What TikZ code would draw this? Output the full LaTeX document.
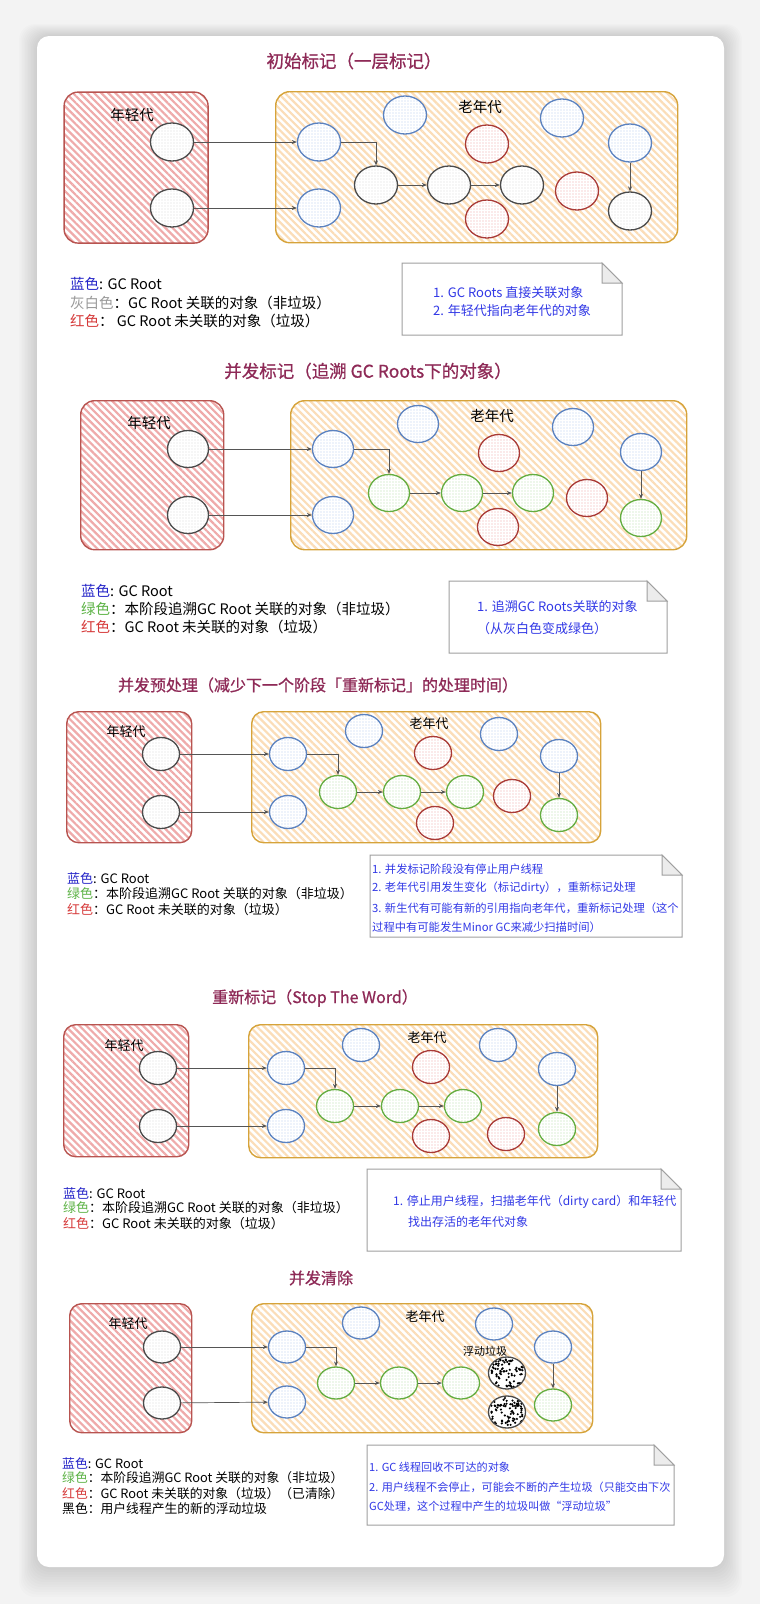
\documentclass[tikz,border=0pt]{standalone}
\usepackage{fontspec}
\setmainfont{Noto Sans CJK SC}
\newfontfamily\titlefont[FakeBold=0.8]{Noto Sans CJK SC}
\usetikzlibrary{
		shapes.geometric,
		patterns.meta,
		arrows.meta,
		positioning
	}
\definecolor{pagebg}{HTML}{F3F3F3}
\definecolor{titlecol}{HTML}{8E2A57}
\definecolor{youngdraw}{HTML}{B85450}
\definecolor{youngfill}{HTML}{EFAAAA}
\definecolor{olddraw}{HTML}{D6A33A}
\definecolor{oldfill}{HTML}{FBDDB8}
\definecolor{bluedraw}{HTML}{5B82C0}
\definecolor{bluedot}{HTML}{B9CFEF}
\definecolor{reddraw}{HTML}{A93A36}
\definecolor{reddot}{HTML}{EEA8A6}
\definecolor{greendraw}{HTML}{64AD40}
\definecolor{greendot}{HTML}{B8DEAA}
\definecolor{rootdraw}{HTML}{4A4A4A}
\definecolor{rootdot}{HTML}{DADADA}
\definecolor{refcol}{HTML}{555555}
\definecolor{legblue}{HTML}{2424C8}
\definecolor{leggray}{HTML}{9A9A9A}
\definecolor{legred}{HTML}{D63A3A}
\definecolor{leggreen}{HTML}{5DB346}
\definecolor{notecol}{HTML}{3138E6}
\tikzset{
		>={Stealth[length=5pt,width=4pt]},
		youngbox/.style={draw=youngdraw, line width=1.4pt, rounded corners=14pt, anchor=north west, inner sep=0pt,
			preaction={fill=white}, pattern={Lines[angle=-45,distance=5pt,line width=2.2pt]}, pattern color=youngfill},
		oldbox/.style={draw=olddraw, line width=1.4pt, rounded corners=14pt, anchor=north west, inner sep=0pt,
			preaction={fill=white}, pattern={Lines[angle=-45,distance=5pt,line width=2.2pt]}, pattern color=oldfill},
		obj/.style={ellipse, line width=1.3pt, inner sep=0pt, minimum width=\objw, minimum height=\objh},
		rootobj/.style={obj, draw=rootdraw, preaction={fill=white}, pattern={Dots[distance=3pt,radius=0.6pt]}, pattern color=rootdot},
		blueobj/.style={obj, draw=bluedraw, preaction={fill=white}, pattern={Dots[distance=3pt,radius=0.7pt]}, pattern color=bluedot},
		redobj/.style={obj, draw=reddraw, preaction={fill=white}, pattern={Dots[distance=3pt,radius=0.7pt]}, pattern color=reddot},
		greenobj/.style={obj, draw=greendraw, preaction={fill=white}, pattern={Dots[distance=3pt,radius=0.7pt]}, pattern color=greendot},
		floatobj/.style={obj, draw=rootdraw, fill=white, path picture={
			\foreach \k in {1,...,85}{\fill[black] (path picture bounding box.center) ++(rand*16pt,rand*14pt) circle (1.2pt);}}},
		ref/.style={->, draw=refcol, line width=0.7pt},
		title/.style={text=titlecol, font=\titlefont\fontsize{#1}{20pt}\selectfont},
		genlabel/.style={font=\fontsize{#1}{16pt}\selectfont},
		legend/.style={anchor=west, inner sep=0pt, font=\fontsize{#1}{16pt}\selectfont},
		notetext/.style={anchor=west, inner sep=0pt, text=notecol, font=\fontsize{#1}{15pt}\selectfont},
		notebox/.style={draw=gray!75, line width=1pt, fill=white}
	}
% note card with a folded corner: x1, y1, x2, y2
\newcommand\notecard[4]{%
	\draw[notebox] (#1,#2) -- (#3-20,#2) -- (#3,#2+20) -- (#3,#4) -- (#1,#4) -- cycle;
	\draw[notebox, fill=gray!15] (#3-20,#2) -- (#3-20,#2+20) -- (#3,#2+20) -- cycle;}

\begin{document}
\begin{tikzpicture}[x=1pt, y=-1pt] % one unit = one pixel of the reference, y grows downwards
	\pgfmathsetseed{12}
	\fill[pagebg] (0,0) rectangle (760,1604);
	\useasboundingbox (0,0) rectangle (760,1604);
	% card and its soft shadow
	\foreach \s in {1,...,12}
		\fill[black, opacity=0.012, rounded corners=16pt] (37-\s*1.5,36-\s) rectangle (724+\s*1.5,1567+\s*2.5);
	\fill[white, rounded corners=12pt] (37,36) rectangle (724,1567);

	%%% 1: initial mark
	\def\objw{43pt}\def\objh{38pt}
	\node[title=17.5pt] (t1) at (354,61) {初始标记（一层标记）};
	\node[youngbox, minimum width=144pt, minimum height=151pt] (p1y) at (63,91) {};
	\node[oldbox, minimum width=402pt, minimum height=151pt] (p1o) at (275,91) {};
	\node[genlabel=14.5pt] (p1yl) at (132,115) {年轻代};
	\node[genlabel=14.5pt] (p1ol) at (480,107) {老年代};
	\foreach \n/\x/\y in {1/172/142, 2/172/208}
		\node[rootobj] (p1r\n) at (\x,\y) {};
	\foreach \n/\x/\y in {1/319/142, 2/319/208, 3/405/115, 4/562/118, 5/630/143}
		\node[blueobj] (p1b\n) at (\x,\y) {};
	\foreach \n/\x/\y in {1/376/185, 2/449/185, 3/522/185, 4/630/211}
		\node[rootobj] (p1c\n) at (\x,\y) {};
	\foreach \n/\x/\y in {1/487/144, 2/577/191, 3/487/219}
		\node[redobj] (p1d\n) at (\x,\y) {};
	\draw[ref] (p1r1) -- (p1b1);
	\draw[ref] (p1r2) -- (p1b2);
	\draw[ref] (p1b1.east) -| (p1c1.north);
	\draw[ref] (p1c1) -- (p1c2);
	\draw[ref] (p1c2) -- (p1c3);
	\draw[ref] (p1b5) -- (p1c4);
	\node[legend=14.5pt] (p1k1) at (70,284) {\textcolor{legblue}{蓝色}: GC Root};
	\node[legend=14.5pt] (p1k2) at (70,303) {\textcolor{leggray}{灰白色}：GC Root 关联的对象（非垃圾）};
	\node[legend=14.5pt] (p1k3) at (70,321) {\textcolor{legred}{红色}： GC Root 未关联的对象（垃圾）};
	\notecard{402}{263}{622}{335}
	\node[notetext=13pt] (p1n1) at (433,293) {1. GC Roots 直接关联对象};
	\node[notetext=13pt] (p1n2) at (433,311) {2. 年轻代指向老年代的对象};

	%%% 2: concurrent mark
	\def\objw{41pt}\def\objh{37pt}
	\node[title=17.5pt] (t2) at (368,371) {并发标记（追溯 GC Roots下的对象）};
	\node[youngbox, minimum width=143pt, minimum height=149pt] (p2y) at (80,400) {};
	\node[oldbox, minimum width=396pt, minimum height=149pt] (p2o) at (290,400) {};
	\node[genlabel=14.5pt] (p2yl) at (149,423) {年轻代};
	\node[genlabel=14.5pt] (p2ol) at (492,416) {老年代};
	\foreach \n/\x/\y in {1/188/449, 2/188/515}
		\node[rootobj] (p2r\n) at (\x,\y) {};
	\foreach \n/\x/\y in {1/333/449, 2/333/515, 3/418/424, 4/573/427, 5/641/452}
		\node[blueobj] (p2b\n) at (\x,\y) {};
	\foreach \n/\x/\y in {1/389/493, 2/462/493, 3/533/493, 4/641/518}
		\node[greenobj] (p2g\n) at (\x,\y) {};
	\foreach \n/\x/\y in {1/499/453, 2/587/498, 3/498/527}
		\node[redobj] (p2d\n) at (\x,\y) {};
	\draw[ref] (p2r1) -- (p2b1);
	\draw[ref] (p2r2) -- (p2b2);
	\draw[ref] (p2b1.east) -| (p2g1.north);
	\draw[ref] (p2g1) -- (p2g2);
	\draw[ref] (p2g2) -- (p2g3);
	\draw[ref] (p2b5) -- (p2g4);
	\node[legend=14.5pt] (p2k1) at (81,591) {\textcolor{legblue}{蓝色}: GC Root};
	\node[legend=14.5pt] (p2k2) at (81,609) {\textcolor{leggreen}{绿色}：本阶段追溯GC Root 关联的对象（非垃圾）};
	\node[legend=14.5pt] (p2k3) at (81,627) {\textcolor{legred}{红色}：GC Root 未关联的对象（垃圾）};
	\notecard{449}{581}{667}{653}
	\node[notetext=13pt] (p2n1) at (477,607) {1. 追溯GC Roots关联的对象};
	\node[notetext=13pt] (p2n2) at (477,629) {（从灰白色变成绿色）};

	%%% 3: concurrent preclean
	\def\objw{37pt}\def\objh{33pt}
	\node[title=16pt] (t3) at (318,685) {并发预处理（减少下一个阶段「重新标记」的处理时间）};
	\node[youngbox, rounded corners=12pt, minimum width=125pt, minimum height=131pt] (p3y) at (66,711) {};
	\node[oldbox, rounded corners=12pt, minimum width=349pt, minimum height=131pt] (p3o) at (251,711) {};
	\node[genlabel=13pt] (p3yl) at (126,732) {年轻代};
	\node[genlabel=13pt] (p3ol) at (429,724) {老年代};
	\foreach \n/\x/\y in {1/161/754, 2/161/812}
		\node[rootobj] (p3r\n) at (\x,\y) {};
	\foreach \n/\x/\y in {1/288/754, 2/288/812, 3/364/731, 4/499/734, 5/559/756}
		\node[blueobj] (p3b\n) at (\x,\y) {};
	\foreach \n/\x/\y in {1/338/792, 2/402/792, 3/465/792, 4/559/815}
		\node[greenobj] (p3g\n) at (\x,\y) {};
	\foreach \n/\x/\y in {1/433/753, 2/512/796, 3/435/823}
		\node[redobj] (p3d\n) at (\x,\y) {};
	\draw[ref] (p3r1) -- (p3b1);
	\draw[ref] (p3r2) -- (p3b2);
	\draw[ref] (p3b1.east) -| (p3g1.north);
	\draw[ref] (p3g1) -- (p3g2);
	\draw[ref] (p3g2) -- (p3g3);
	\draw[ref] (p3b5) -- (p3g4);
	\node[legend=13pt] (p3k1) at (67,878) {\textcolor{legblue}{蓝色}: GC Root};
	\node[legend=13pt] (p3k2) at (67,894) {\textcolor{leggreen}{绿色}：本阶段追溯GC Root 关联的对象（非垃圾）};
	\node[legend=13pt] (p3k3) at (67,910) {\textcolor{legred}{红色}：GC Root 未关联的对象（垃圾）};
	\notecard{370}{855}{682}{937}
	\node[notetext=11.3pt] (p3n1) at (372,869) {1. 并发标记阶段没有停止用户线程};
	\node[notetext=11.3pt] (p3n2) at (372,888) {2. 老年代引用发生变化（标记dirty），重新标记处理};
	\node[notetext=11.3pt] (p3n3) at (372,908) {3. 新生代有可能有新的引用指向老年代，重新标记处理（这个};
	\node[notetext=11.3pt] (p3n4) at (372,927) {过程中有可能发生Minor GC来减少扫描时间）};

	%%% 4: remark
	\def\objw{37pt}\def\objh{33pt}
	\node[title=16pt] (t4) at (315,998) {重新标记（Stop The Word）};
	\node[youngbox, rounded corners=12pt, minimum width=125pt, minimum height=132pt] (p4y) at (63,1024) {};
	\node[oldbox, rounded corners=12pt, minimum width=349pt, minimum height=133pt] (p4o) at (248,1024) {};
	\node[genlabel=13pt] (p4yl) at (124,1046) {年轻代};
	\node[genlabel=13pt] (p4ol) at (427,1038) {老年代};
	\foreach \n/\x/\y in {1/158/1068, 2/158/1126}
		\node[rootobj] (p4r\n) at (\x,\y) {};
	\foreach \n/\x/\y in {1/286/1068, 2/286/1126, 3/361/1045, 4/498/1045, 5/557/1069}
		\node[blueobj] (p4b\n) at (\x,\y) {};
	\foreach \n/\x/\y in {1/335/1106, 2/400/1106, 3/463/1106, 4/557/1129}
		\node[greenobj] (p4g\n) at (\x,\y) {};
	\foreach \n/\x/\y in {1/431/1067, 2/431/1136, 3/506/1134}
		\node[redobj] (p4d\n) at (\x,\y) {};
	\draw[ref] (p4r1) -- (p4b1);
	\draw[ref] (p4r2) -- (p4b2);
	\draw[ref] (p4b1.east) -| (p4g1.north);
	\draw[ref] (p4g1) -- (p4g2);
	\draw[ref] (p4g2) -- (p4g3);
	\draw[ref] (p4b5) -- (p4g4);
	\node[legend=13pt] (p4k1) at (63,1193) {\textcolor{legblue}{蓝色}: GC Root};
	\node[legend=13pt] (p4k2) at (63,1208) {\textcolor{leggreen}{绿色}：本阶段追溯GC Root 关联的对象（非垃圾）};
	\node[legend=13pt] (p4k3) at (63,1224) {\textcolor{legred}{红色}：GC Root 未关联的对象（垃圾）};
	\notecard{367}{1169}{681}{1251}
	\node[notetext=12pt] (p4n1) at (393,1202) {1. 停止用户线程，扫描老年代（dirty card）和年轻代};
	\node[notetext=12pt] (p4n2) at (408,1222) {找出存活的老年代对象};

	%%% 5: concurrent sweep
	\def\objw{37pt}\def\objh{32pt}
	\node[title=16pt] (t5) at (321,1278) {并发清除};
	\node[youngbox, rounded corners=12pt, minimum width=122pt, minimum height=129pt] (p5y) at (69,1303) {};
	\node[oldbox, rounded corners=12pt, minimum width=341pt, minimum height=129pt] (p5o) at (251,1303) {};
	\node[genlabel=13pt] (p5yl) at (128,1324) {年轻代};
	\node[genlabel=13pt] (p5ol) at (425,1317) {老年代};
	\foreach \n/\x/\y in {1/162/1347, 2/162/1403}
		\node[rootobj] (p5r\n) at (\x,\y) {};
	\foreach \n/\x/\y in {1/287/1347, 2/287/1402, 3/361/1323, 4/494/1324, 5/553/1347}
		\node[blueobj] (p5b\n) at (\x,\y) {};
	\foreach \n/\x/\y in {1/336/1383, 2/399/1383, 3/461/1383, 4/553/1405}
		\node[greenobj] (p5g\n) at (\x,\y) {};
	\foreach \n/\x/\y in {1/507/1373, 2/507/1412}
		\node[floatobj] (p5f\n) at (\x,\y) {};
	\node[genlabel=11pt] (p5fl) at (485,1351) {浮动垃圾};
	\draw[ref] (p5r1) -- (p5b1);
	\draw[ref] (p5r2) -- (p5b2);
	\draw[ref] (p5b1.east) -| (p5g1.north);
	\draw[ref] (p5g1) -- (p5g2);
	\draw[ref] (p5g2) -- (p5g3);
	\draw[ref] (p5b5) -- (p5g4);
	\node[legend=12.8pt] (p5k1) at (62,1463) {\textcolor{legblue}{蓝色}: GC Root};
	\node[legend=12.8pt] (p5k2) at (62,1478) {\textcolor{leggreen}{绿色}：本阶段追溯GC Root 关联的对象（非垃圾）};
	\node[legend=12.8pt] (p5k3) at (62,1494) {\textcolor{legred}{红色}：GC Root 未关联的对象（垃圾）（已清除）};
	\node[legend=12.8pt] (p5k4) at (62,1509) {黑色：用户线程产生的新的浮动垃圾};
	\notecard{367}{1445}{674}{1525}
	\node[notetext=11.1pt] (p5n1) at (369,1467) {1. GC 线程回收不可达的对象};
	\node[notetext=11.1pt] (p5n2) at (369,1487) {2. 用户线程不会停止，可能会不断的产生垃圾（只能交由下次};
	\node[notetext=11.1pt] (p5n3) at (369,1506) {GC处理，这个过程中产生的垃圾叫做“浮动垃圾”};
\end{tikzpicture}
\end{document}
